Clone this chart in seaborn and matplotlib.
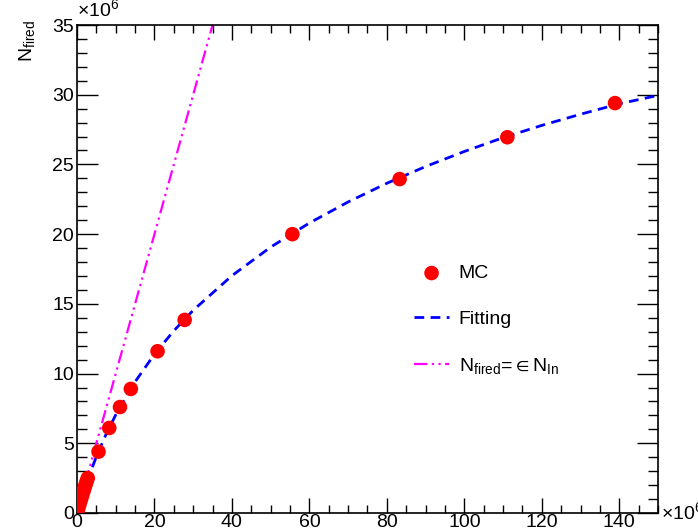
import numpy as np
import pandas as pd
import matplotlib.pyplot as plt
import seaborn as sns
from matplotlib.ticker import MultipleLocator

sns.set_theme(style="ticks")
plt.rcParams['font.family'] = ['Liberation Sans', 'DejaVu Sans']
plt.rcParams['mathtext.fontset'] = 'custom'
plt.rcParams['mathtext.rm'] = 'Liberation Sans'
plt.rcParams['mathtext.default'] = 'regular'
plt.rcParams['text.color'] = 'black'
plt.rcParams['xtick.color'] = 'black'
plt.rcParams['ytick.color'] = 'black'

# MC points (x in 1e6 incoming, y in 1e6 fired)
mc_x = [0.028, 0.28, 0.56, 0.83, 1.11, 1.39, 1.67, 1.94, 2.22, 2.5, 2.78,
        5.56, 8.33, 11.1, 13.9, 20.8, 27.8, 55.6, 83.3, 111.1, 138.9]
mc_y = [0.03, 0.27, 0.54, 0.80, 1.06, 1.31, 1.56, 1.80, 2.04, 2.27, 2.50,
        4.4, 6.1, 7.6, 8.9, 11.6, 13.85, 20.0, 23.95, 26.95, 29.4]

# fitted curve
fit_x = [0, 1, 2, 3, 5, 7.5, 10, 15, 20, 25, 30, 40, 50, 60, 70, 80,
         90, 100, 110, 120, 130, 140, 150]
fit_y = [0, 0.93, 1.79, 2.59, 4.04, 5.64, 7.04, 9.41, 11.39, 13.07, 14.54,
         17.02, 19.07, 20.80, 22.31, 23.65, 24.85, 25.93, 26.92, 27.80,
         28.60, 29.35, 29.95]

# N_fired = eps * N_In
lin_x = [0, 35.5]
lin_y = [0, 35.5]

mc = pd.DataFrame({'x': mc_x, 'y': mc_y})
fit = pd.DataFrame({'x': fit_x, 'y': fit_y})
lin = pd.DataFrame({'x': lin_x, 'y': lin_y})

fig = plt.figure(figsize=(6.98, 5.31), dpi=100)
ax = fig.add_axes([0.1103, 0.0339, 0.8324, 0.919])

sns.lineplot(data=lin, x='x', y='y', ax=ax, color='#ff00ff', lw=1.6,
             linestyle=(0, (6, 2, 1, 2, 1, 2)), sort=False, estimator=None,
             label=r'N$_{fired}$=${\in}$N$_{In}$', zorder=2)
sns.lineplot(data=fit, x='x', y='y', ax=ax, color='#0000ff', lw=2,
             linestyle=(0, (3.5, 2.3)), sort=False, estimator=None,
             label='Fitting', zorder=3)
sns.scatterplot(data=mc, x='x', y='y', ax=ax, color='#ff0000', s=110,
                edgecolor='none', label='MC', zorder=4)

ax.set_xlim(0, 150)
ax.set_ylim(0, 35)
ax.xaxis.set_major_locator(MultipleLocator(20))
ax.xaxis.set_minor_locator(MultipleLocator(5))
ax.yaxis.set_major_locator(MultipleLocator(5))
ax.yaxis.set_minor_locator(MultipleLocator(1))
ax.tick_params(axis='both', which='both', direction='in', top=True, right=True,
               labelsize=14, width=1)
ax.tick_params(axis='x', which='major', length=11, pad=1)
ax.tick_params(axis='x', which='minor', length=5.5)
ax.tick_params(axis='y', which='major', length=15, pad=2)
ax.tick_params(axis='y', which='minor', length=7.5)
for s in ax.spines.values():
    s.set_linewidth(1.2)
    s.set_color('black')
ax.set_xlabel('')
ax.set_ylabel('')

fig.text(0.110, 0.962, '\u00d710$^{6}$', fontsize=14, ha='left', va='bottom')
fig.text(0.947, 0.035, '\u00d710$^{6}$', fontsize=14, ha='left', va='center')
fig.text(0.038, 0.962, 'N$_{fired}$', fontsize=14, rotation=90, ha='center', va='top')

h, l = ax.get_legend_handles_labels()
order = [2, 1, 0]
ax.legend([h[i] for i in order], [l[i] for i in order], frameon=False,
          loc='upper left', bbox_to_anchor=(0.55, 0.545), fontsize=14,
          labelspacing=1.45, handlelength=1.8, handletextpad=0.5)

fig.savefig('out.png', dpi=100)
